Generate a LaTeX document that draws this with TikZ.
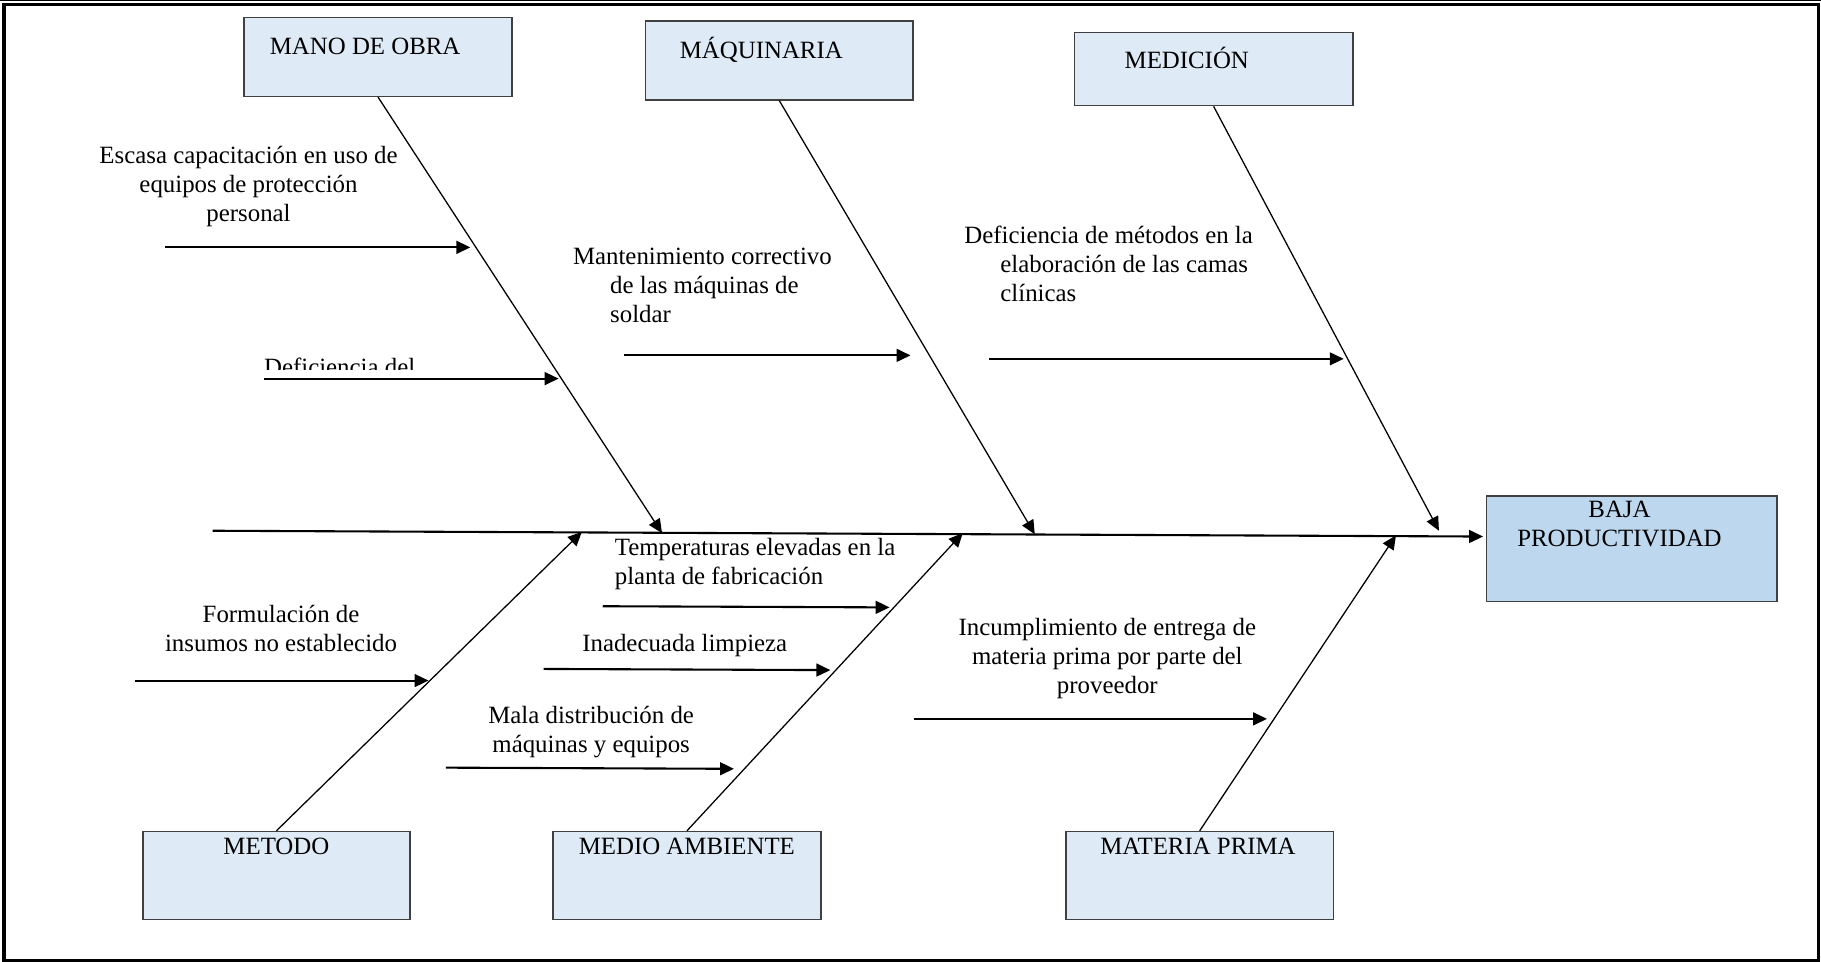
\documentclass[tikz,border=0pt]{standalone}
\usepackage{fontspec}
\setmainfont{Liberation Serif}
\usetikzlibrary{arrows.meta}
\definecolor{boxfill}{HTML}{DEEAF6}
\definecolor{effill}{HTML}{BDD7EE}
\definecolor{boxdraw}{HTML}{404040}
\begin{document}
\begin{tikzpicture}[x=0.5pt,y=-0.5pt,
  every node/.style={font=\fontsize{10.7}{12.5}\selectfont, inner sep=0pt},
  catbox/.style={draw=boxdraw, fill=boxfill, line width=0.6pt, rectangle},
  bone/.style={line width=0.55pt, -{Triangle[length=6pt,width=5.5pt]}},
  subarrow/.style={line width=0.9pt, -{Triangle[length=6pt,width=5.5pt]}},
  lbl/.style={anchor=base, align=center},
  lbll/.style={anchor=base west, align=left},
]
\useasboundingbox (0,0) rectangle (1568,828);
\draw[line width=1.5pt] (3.4,3.9) rectangle (1565.8,827);
\draw[line width=0.5pt] (0,0.6) -- (1568,0.6);

% category boxes
\node[catbox, minimum width=115.5pt, minimum height=34pt] (mo)  at (325.5,49) {};
\node[catbox, minimum width=115pt, minimum height=34pt] (maq) at (671,52) {};
\node[catbox, minimum width=120pt, minimum height=31.5pt] (med) at (1045,59.5) {};
\node[catbox, fill=effill, minimum width=125pt, minimum height=45.5pt] (baja) at (1405,472.5) {};
\node[catbox, minimum width=115pt, minimum height=38pt] (met) at (238,754) {};
\node[catbox, minimum width=115.5pt, minimum height=38pt] (ma)  at (591.5,754) {};
\node[catbox, minimum width=115pt, minimum height=38pt] (mp)  at (1033,754) {};

% box texts
\node[lbll] (tmo)  at (232,47) {MANO DE OBRA};
\node[lbll] (tmaq) at (585,50) {MÁQUINARIA};
\node[lbll] (tmed) at (968,59) {MEDICIÓN};
\node[lbl]  (tbaja) at (1394.5,471) {BAJA\\PRODUCTIVIDAD};
\node[lbl]  (tmet) at (238,736) {METODO};
\node[lbll] (tma)  at (498,736) {MEDIO AMBIENTE};
\node[lbll] (tmp)  at (947,736) {MATERIA PRIMA};

% spine
\coordinate (sL) at (183,457);
\coordinate (sR) at (1277,462);
\draw[subarrow] (sL) -- (sR);

% bone ends
\coordinate (bmo)  at (570,459);
\coordinate (bmaq) at (891,460);
\coordinate (bmed) at (1239,457);
\coordinate (bmet) at (501,458);
\coordinate (bma)  at (829,459);
\coordinate (bmp)  at (1202,461);
\draw[bone] (mo.south)  -- (bmo);
\draw[bone] (maq.south) -- (bmaq);
\draw[bone] (med.south) -- (bmed);
\draw[bone] (met.north) -- (bmet);
\draw[bone] (ma.north)  -- (bma);
\draw[bone] (mp.north)  -- (bmp);

% cause arrows
\coordinate (a1s) at (142,213);  \coordinate (a1e) at (405,213);
\coordinate (a2s) at (227,326);  \coordinate (a2e) at (481,326);
\coordinate (a3s) at (537,306);  \coordinate (a3e) at (784,306);
\coordinate (a4s) at (852,309);  \coordinate (a4e) at (1157,309);
\coordinate (a5s) at (519,522);  \coordinate (a5e) at (766,523);
\coordinate (a6s) at (468,576);  \coordinate (a6e) at (715,577);
\coordinate (a7s) at (384,661);  \coordinate (a7e) at (632,662);
\coordinate (a8s) at (116,586);  \coordinate (a8e) at (369,586);
\coordinate (a9s) at (787,619);  \coordinate (a9e) at (1091,619);
\foreach \i in {1,...,9} {\draw[subarrow] (a\i s) -- (a\i e);}

% cause texts
\node[lbl] (c1) at (214,191) {Escasa capacitación en uso de\\equipos de protección\\personal};
\begin{scope}
  \clip (200,290) rectangle (420,318);
  \node[lbll] (c2) at (227,323) {Deficiencia del};
\end{scope}
\node[lbll] (c3) at (525,278) {\hspace*{-16pt}Mantenimiento correctivo\\de las máquinas de\\soldar};
\node[lbll] (c4) at (861,260) {\hspace*{-15.5pt}Deficiencia de métodos en la\\elaboración de las camas\\clínicas};
\node[lbll] (c5) at (529,503) {Temperaturas elevadas en la\\planta de fabricación};
\node[lbll] (c6) at (501,561) {Inadecuada limpieza};
\node[lbl]  (c7) at (509,648) {Mala distribución de\\máquinas y equipos};
\node[lbl]  (c8) at (242,561) {Formulación de\\insumos no establecido};
\node[lbl]  (c9) at (953.5,597) {Incumplimiento de entrega de\\materia prima por parte del\\proveedor};
\end{tikzpicture}
\end{document}
